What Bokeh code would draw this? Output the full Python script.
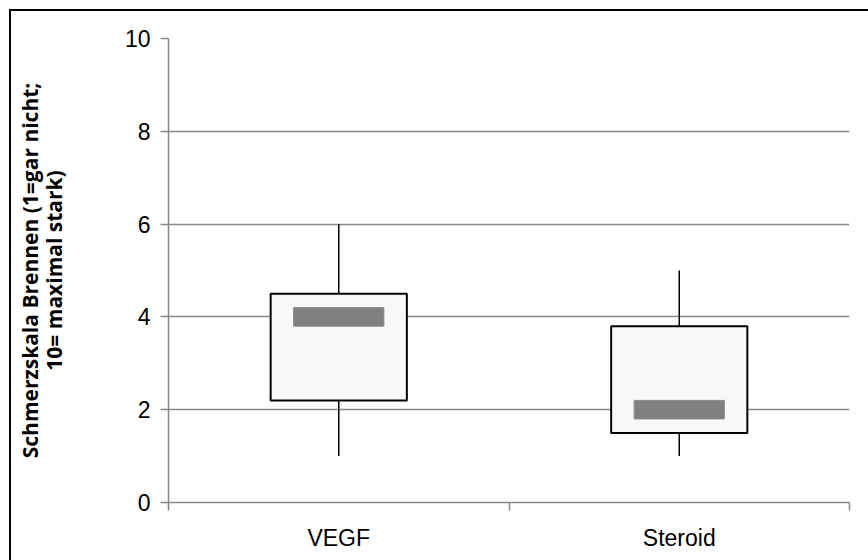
from bokeh.plotting import figure
from bokeh.models import FixedTicker, Range1d
from bokeh.embed import file_html
from bokeh.resources import INLINE

categories = ["VEGF", "Steroid"]
whisker_min = [1.0, 1.0]
q1 = [2.2, 1.5]
median = [4.0, 2.0]
q3 = [4.5, 3.8]
whisker_max = [6.0, 5.0]
y_ticks = [0, 2, 4, 6, 8, 10]

xs = [i + 0.5 for i in range(len(categories))]
GRAY = "#878787"

p = figure(width=859, height=551, output_backend="svg", toolbar_location=None,
           x_range=Range1d(0, len(categories)), y_range=Range1d(0, 10),
           min_border_left=157, min_border_right=21, min_border_top=27, min_border_bottom=60)
p.margin = (9, 0, 0, 9)
p.styles = {"border-top": "2px solid black", "border-left": "2px solid black",
            "box-sizing": "border-box"}
p.outline_line_color = None
p.background_fill_color = "white"
p.border_fill_color = "white"

# whiskers
p.segment(x0=xs, y0=whisker_min, x1=xs, y1=q1, line_color="black", line_width=1.5)
p.segment(x0=xs, y0=q3, x1=xs, y1=whisker_max, line_color="black", line_width=1.5)
# boxes
p.vbar(x=xs, width=0.4, bottom=q1, top=q3, fill_color="#f8f8f8", line_color="black", line_width=2)
# median bars
MH = 0.2
p.vbar(x=xs, width=0.265, bottom=[m - MH for m in median], top=[m + MH for m in median],
       fill_color="#808080", line_color="#8a8a8a", line_width=1)

# y axis
p.yaxis.ticker = FixedTicker(ticks=y_ticks)
p.yaxis.axis_line_color = GRAY
p.yaxis.axis_line_width = 1.5
p.yaxis.major_tick_line_color = GRAY
p.yaxis.major_tick_line_width = 1.5
p.yaxis.major_tick_out = 8
p.yaxis.major_tick_in = 0
p.yaxis.minor_tick_line_color = None
p.yaxis.major_label_text_font = "Liberation Sans"
p.yaxis.major_label_text_font_size = "23px"
p.yaxis.major_label_text_color = "black"
p.yaxis.major_label_standoff = 10
p.yaxis.axis_label = "Schmerzskala Brennen (1=gar nicht;\n10= maximal stark)"
p.yaxis.axis_label_text_font = "Open Sans"
p.yaxis.axis_label_text_font_style = "bold"
p.yaxis.axis_label_text_font_size = "21px"
p.yaxis.axis_label_text_line_height = 0.85
p.yaxis.axis_label_text_color = "black"
p.yaxis.axis_label_standoff = 54

# x axis
p.xaxis.ticker = FixedTicker(ticks=xs, minor_ticks=list(range(len(categories) + 1)))
p.xaxis.major_label_overrides = {x: c for x, c in zip(xs, categories)}
p.xaxis.axis_line_color = GRAY
p.xaxis.axis_line_width = 1.5
p.xaxis.major_tick_line_color = None
p.xaxis.minor_tick_line_color = GRAY
p.xaxis.minor_tick_line_width = 1.5
p.xaxis.minor_tick_out = 8
p.xaxis.minor_tick_in = 0
p.xaxis.major_label_text_font = "Liberation Sans"
p.xaxis.major_label_text_font_size = "23px"
p.xaxis.major_label_text_color = "black"
p.xaxis.major_label_standoff = 14

p.xgrid.grid_line_color = None
p.ygrid.ticker = FixedTicker(ticks=y_ticks[1:])
p.ygrid.grid_line_color = GRAY
p.ygrid.grid_line_width = 1.5

open("out.html", "w").write(file_html(p, INLINE))
